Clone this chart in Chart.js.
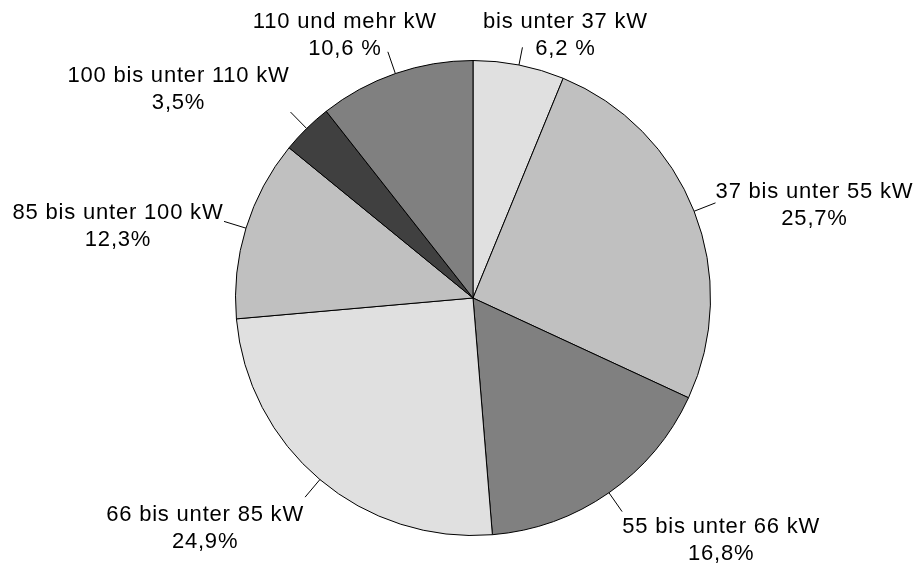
<!DOCTYPE html>
<html>
<head>
<meta charset="utf-8">
<script src="https://cdn.jsdelivr.net/npm/chart.js@4"></script>
<style>
  html, body { margin: 0; padding: 0; background: #fff; }
  #wrap { width: 919px; height: 567px; }
</style>
</head>
<body>
<div id="wrap"><canvas id="pie"></canvas></div>
<script>
// Leistungsklassen (im Uhrzeigersinn ab 12 Uhr)
const categories = [
  "bis unter 37 kW",
  "37 bis unter 55 kW",
  "55 bis unter 66 kW",
  "66 bis unter 85 kW",
  "85 bis unter 100 kW",
  "100 bis unter 110 kW",
  "110 und mehr kW"
];
const shares = [6.2, 25.7, 16.8, 24.9, 12.3, 3.5, 10.6];
const shareLabels = ["6,2 %", "25,7%", "16,8%", "24,9%", "12,3%", "3,5%", "10,6 %"];
const sliceColors = ["#e0e0e0", "#c0c0c0", "#808080", "#e0e0e0", "#c0c0c0", "#404040", "#808080"];

// Textblock-Versatz relativ zum Ende der Führungslinie: [dx Mitte, dy erste Zeile]
const labelOffsets = [[43, -25], [99, -11], [99, 15], [-100, 18], [-106, -8], [-112, -36], [-43, -30]];
const leaderLen = [18, 23, 23, 23, 23, 23, 23];

const leaderPlugin = {
  id: "leaderLabels",
  afterDatasetsDraw(chart) {
    const ctx = chart.ctx;
    const arcs = chart.getDatasetMeta(0).data;
    ctx.save();
    ctx.font = "22px 'Liberation Sans', Arial, sans-serif";
    ctx.letterSpacing = "0.8px";
    ctx.fillStyle = "#000";
    ctx.strokeStyle = "#000";
    ctx.lineWidth = 1;
    ctx.textAlign = "center";
    ctx.textBaseline = "middle";
    arcs.forEach((arc, i) => {
      const mid = (arc.startAngle + arc.endAngle) / 2;
      const r = arc.outerRadius;
      const x0 = arc.x + Math.cos(mid) * r;
      const y0 = arc.y + Math.sin(mid) * r;
      const x1 = arc.x + Math.cos(mid) * (r + leaderLen[i]);
      const y1 = arc.y + Math.sin(mid) * (r + leaderLen[i]);
      ctx.beginPath();
      ctx.moveTo(x0, y0);
      ctx.lineTo(x1, y1);
      ctx.stroke();
      const [dx, dy] = labelOffsets[i];
      ctx.fillText(categories[i], x1 + dx, y1 + dy);
      ctx.fillText(shareLabels[i], x1 + dx, y1 + dy + 27);
    });
    ctx.restore();
  }
};

new Chart(document.getElementById("pie"), {
  type: "pie",
  data: {
    labels: categories,
    datasets: [{
      data: shares,
      backgroundColor: sliceColors,
      borderColor: "#000",
      borderWidth: 1
    }]
  },
  options: {
    responsive: true,
    maintainAspectRatio: false,
    animation: false,
    layout: { padding: { top: 60, bottom: 31, left: 235, right: 208 } },
    plugins: {
      legend: { display: false },
      tooltip: { enabled: false }
    }
  },
  plugins: [leaderPlugin]
});
</script>
</body>
</html>
